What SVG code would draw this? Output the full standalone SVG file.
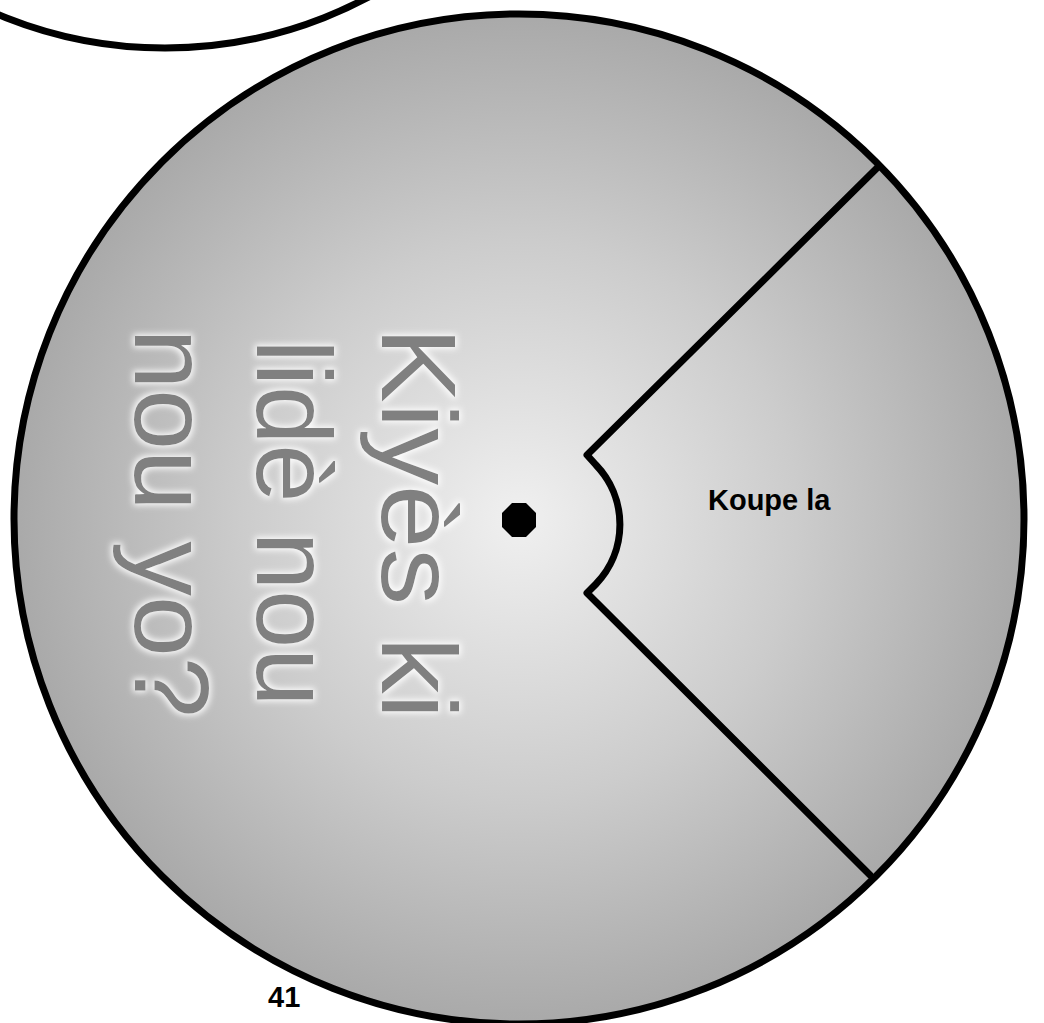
<svg xmlns="http://www.w3.org/2000/svg" width="1044" height="1023" viewBox="0 0 1044 1023">
  <defs>
    <radialGradient id="disc" cx="519" cy="519" r="505" gradientUnits="userSpaceOnUse">
      <stop offset="0" stop-color="#f0f0f0"/>
      <stop offset="0.55" stop-color="#cccccc"/>
      <stop offset="1" stop-color="#a9a9a9"/>
    </radialGradient>
    <filter id="glow" x="-10%" y="-10%" width="120%" height="120%">
      <feMorphology in="SourceAlpha" operator="dilate" radius="1.5" result="d"/>
      <feGaussianBlur in="d" stdDeviation="3" result="b"/>
      <feFlood flood-color="#ffffff" flood-opacity="0.9"/>
      <feComposite in2="b" operator="in" result="g"/>
      <feMerge>
        <feMergeNode in="g"/>
        <feMergeNode in="SourceGraphic"/>
      </feMerge>
    </filter>
  </defs>
  <style>
    .edge { fill: none; stroke: #000; stroke-width: 7; stroke-linejoin: round; stroke-linecap: round; }
    .big { font-family: "Liberation Sans", Arial, sans-serif; font-size: 106px; fill: #808080; text-anchor: middle; }
    .lbl { font-family: "Liberation Sans", Arial, sans-serif; font-weight: bold; font-size: 29px; fill: #000; }
  </style>
  <rect width="1044" height="1023" fill="#ffffff"/>

  <g id="previous-disc">
    <circle cx="165" cy="-384" r="432" class="edge"/>
  </g>

  <g id="disc-node">
    <circle cx="519" cy="519" r="505" fill="url(#disc)" stroke="#000" stroke-width="7"/>
  </g>

  <g id="connectors">
    <path class="edge" stroke-width="6" d="M877 168 L587 455 L596 465 A86 86 0 0 1 596 584 L587 593 L870 875"/>
  </g>

  <g id="center-dot">
    <polygon points="512,503 526,503 536,513 536,527 526,537 512,537 502,527 502,513" fill="#000"/>
  </g>

  <g id="question" filter="url(#glow)">
    <text class="big" transform="translate(382,523) rotate(90)" textLength="392" lengthAdjust="spacingAndGlyphs">Kiyès ki</text>
    <text class="big" transform="translate(257,523) rotate(90)" textLength="367" lengthAdjust="spacingAndGlyphs">lidè nou</text>
    <text class="big" transform="translate(135,523) rotate(90)" textLength="389" lengthAdjust="spacingAndGlyphs">nou yo?</text>
  </g>

  <g id="cut-label">
    <text class="lbl" x="708" y="510">Koupe la</text>
  </g>

  <g id="page-number">
    <text class="lbl" x="268" y="1007">41</text>
  </g>
</svg>
